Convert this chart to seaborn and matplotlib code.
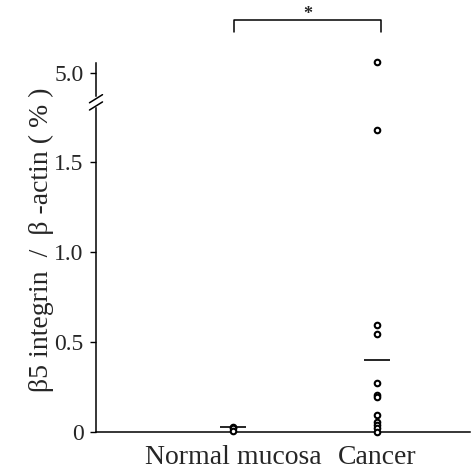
import pandas as pd
import matplotlib
matplotlib.use("Agg")
import matplotlib.pyplot as plt
import seaborn as sns

# values
GROUPS = ["Normal mucosa", "Cancer"]
NORMAL = [0.03, 0.022, 0.006]
CANCER = [5.06, 1.68, 0.594, 0.544, 0.272, 0.206, 0.194, 0.094, 0.056, 0.039, 0.022, 0.0]
LINE_VALUES = [0.03, 0.40]
LOW_TICKS = [0, 0.5, 1.0, 1.5]
LOW_TICK_LABELS = ["0", "0.5", "1.0", "1.5"]
HIGH_TICKS = [5.0]
HIGH_TICK_LABELS = ["5.0"]

sns.set_style("white")
plt.rcParams["font.family"] = ["Liberation Serif", "DejaVu Serif"]

df = pd.DataFrame({
    "group": [GROUPS[0]] * len(NORMAL) + [GROUPS[1]] * len(CANCER),
    "value": NORMAL + CANCER,
})

fig = plt.figure(figsize=(4.71, 4.72), dpi=100)
ax_lo = fig.add_axes([0.2038, 0.0733, 0.794, 0.698])
ax_hi = fig.add_axes([0.2038, 0.7966, 0.794, 0.0869])

for ax in (ax_lo, ax_hi):
    sns.stripplot(data=df, x="group", y="value", order=GROUPS, jitter=False,
                  marker="o", size=4, facecolor="white", edgecolor="black",
                  linewidth=1.5, color="white", ax=ax)
    for i, v in enumerate(LINE_VALUES):
        ax.hlines(v, i - 0.09, i + 0.09, color="black", lw=1.2)
    ax.set_xlim(-0.951, 1.646)
    ax.set_xlabel("")
    ax.set_ylabel("")
    ax.set_facecolor("none")
    for s in ("top", "right"):
        ax.spines[s].set_visible(False)
    ax.tick_params(axis="y", direction="out", length=4, width=1, color="black",
                   labelsize=17, pad=5, left=True)

# lower part
ax_lo.set_ylim(-0.03, 1.8)
ax_lo.spines["bottom"].set_position(("data", 0))
ax_lo.spines["left"].set_bounds(0, 1.8)
ax_lo.set_yticks(LOW_TICKS, LOW_TICK_LABELS)
ax_lo.tick_params(axis="x", length=0, labelsize=20, pad=9)
for s in ("left", "bottom"):
    ax_lo.spines[s].set_color("black")
    ax_lo.spines[s].set_linewidth(1.1)
ax_lo.set_ylabel("β5 integrin  /  β -actin ( % )", fontsize=20)
ax_lo.yaxis.set_label_coords(-0.113, 0.6)

# upper part
ax_hi.set_ylim(4.872, 5.1)
ax_hi.spines["bottom"].set_visible(False)
ax_hi.spines["left"].set_bounds(4.872, 5.056)
ax_hi.spines["left"].set_color("black")
ax_hi.spines["left"].set_linewidth(1.1)
ax_hi.set_yticks(HIGH_TICKS, HIGH_TICK_LABELS)
ax_hi.set_xticks([])

# break marks
for dy in (1.028, 1.006):
    ax_lo.plot([-0.0174, 0.0174], [dy - 0.0123, dy + 0.0123], color="black",
               lw=1.1, transform=ax_lo.transAxes, clip_on=False)

# significance bracket
ax_hi.plot([0.01, 0.01, 1.03, 1.03], [5.228, 5.294, 5.294, 5.228], color="black",
           lw=1.1, clip_on=False)
ax_hi.text(0.52, 5.28, "*", ha="center", va="bottom", fontsize=13,
           fontweight="bold", clip_on=False)

fig.savefig("out.png", dpi=100)
